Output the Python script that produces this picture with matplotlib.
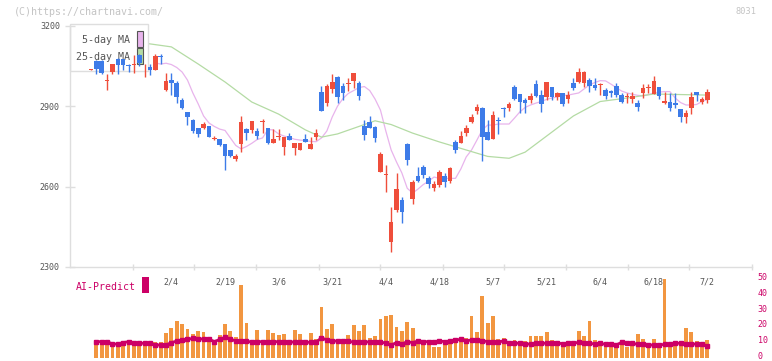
"""
Candlestick chart with 5/25-day moving averages and an AI-Predict volume panel.
"""

import matplotlib

matplotlib.use("Agg")
import matplotlib.pyplot as plt
import matplotlib.transforms as mtransforms
import numpy as np
from matplotlib.patches import Rectangle

# --- data ----------------------------------------------------------------
opens = [
    3036, 3069, 3069, 2996, 3028, 3077, 3077, 3054, 3055, 3092,
    3038, 3048, 3036, 3087, 2961, 2998, 2988, 2924, 2880, 2849,
    2818, 2818, 2827, 2777, 2777, 2759, 2737, 2705, 2759, 2815,
    2812, 2808, 2843, 2818, 2762, 2785, 2747, 2789, 2743, 2737,
    2778, 2742, 2787, 2955, 2914, 2965, 3008, 2976, 2983, 2996,
    2986, 2826, 2843, 2821, 2656, 2645, 2395, 2513, 2550, 2759,
    2553, 2640, 2675, 2634, 2596, 2606, 2641, 2622, 2768, 2764,
    2799, 2840, 2883, 2892, 2803, 2778, 2848, 2895, 2892, 2973,
    2946, 2924, 2924, 2982, 2942, 2936, 2973, 2936, 2951, 2927,
    2986, 2992, 2986, 2998, 2980, 2980, 2961, 2957, 2976, 2942,
    2933, 2926, 2914, 2951, 2967, 2946, 2971, 2914, 2917, 2914,
    2889, 2861, 2895, 2952, 2917, 2924,
]
highs = [
    3040, 3073, 3073, 3020, 3058, 3080, 3077, 3058, 3092, 3095,
    3058, 3058, 3095, 3095, 3025, 3025, 2995, 2930, 2880, 2852,
    2818, 2842, 2827, 2791, 2779, 2759, 2737, 2721, 2863, 2820,
    2845, 2819, 2852, 2818, 2815, 2815, 2784, 2800, 2763, 2763,
    2795, 2785, 2817, 2975, 2982, 3021, 3013, 2986, 3004, 3025,
    2996, 2849, 2864, 2826, 2731, 2681, 2525, 2650, 2563, 2764,
    2625, 2675, 2680, 2640, 2621, 2662, 2650, 2675, 2774, 2809,
    2830, 2871, 2909, 2899, 2849, 2883, 2861, 2899, 2917, 2980,
    2946, 2930, 2948, 2998, 2961, 2992, 2973, 2955, 2951, 2957,
    3004, 3042, 3033, 3004, 3004, 2988, 2967, 2961, 2988, 2948,
    2948, 2955, 2924, 2983, 2983, 3013, 2971, 2955, 2948, 2948,
    2889, 2886, 2952, 2952, 2936, 2963,
]
lows = [
    3035, 3020, 3020, 2961, 3020, 3020, 3036, 3028, 3025, 3050,
    3008, 3017, 3036, 3058, 2958, 2942, 2914, 2890, 2830, 2800,
    2787, 2815, 2784, 2775, 2752, 2662, 2712, 2697, 2729, 2775,
    2800, 2778, 2800, 2758, 2762, 2775, 2718, 2775, 2720, 2737,
    2765, 2742, 2776, 2884, 2900, 2948, 2914, 2924, 2958, 2967,
    2924, 2774, 2818, 2765, 2656, 2581, 2357, 2507, 2463, 2681,
    2535, 2619, 2631, 2596, 2585, 2600, 2600, 2615, 2724, 2762,
    2789, 2836, 2871, 2697, 2774, 2778, 2797, 2859, 2884, 2924,
    2876, 2876, 2911, 2936, 2880, 2924, 2924, 2924, 2901, 2911,
    2961, 2988, 2973, 2952, 2961, 2942, 2927, 2936, 2936, 2911,
    2911, 2911, 2884, 2930, 2948, 2946, 2926, 2909, 2884, 2892,
    2843, 2839, 2870, 2921, 2909, 2914,
]
closes = [
    3039, 3038, 3024, 2999, 3058, 3054, 3054, 3050, 3058, 3062,
    3041, 3036, 3087, 3083, 2993, 2986, 2934, 2895, 2861, 2809,
    2797, 2834, 2787, 2780, 2756, 2714, 2715, 2715, 2841, 2800,
    2845, 2790, 2846, 2762, 2778, 2788, 2784, 2775, 2763, 2763,
    2765, 2759, 2802, 2884, 2976, 2990, 2936, 2951, 2986, 3023,
    2938, 2793, 2820, 2783, 2722, 2648, 2469, 2591, 2507, 2700,
    2616, 2622, 2644, 2609, 2610, 2653, 2619, 2671, 2737, 2789,
    2820, 2859, 2899, 2787, 2774, 2868, 2844, 2889, 2909, 2927,
    2915, 2914, 2938, 2938, 2907, 2992, 2933, 2951, 2909, 2942,
    2970, 3029, 3029, 2977, 2970, 2983, 2940, 2951, 2942, 2917,
    2938, 2938, 2899, 2967, 2973, 2994, 2940, 2920, 2895, 2905,
    2861, 2874, 2936, 2942, 2926, 2955,
]

# 5-day MA, starting at candle 12
ma5_start = 12
ma5 = [
    3062, 3058, 3061, 3056, 3045, 3028, 2998, 2950, 2909, 2864,
    2838, 2825, 2815, 2810, 2782, 2754, 2741, 2750, 2762, 2776,
    2782, 2813, 2812, 2797, 2789, 2784, 2777, 2774, 2772, 2769,
    2768, 2782, 2808, 2860, 2901, 2929, 2948, 2959, 2970, 2974,
    2959, 2927, 2886, 2808, 2737, 2692, 2651, 2594, 2576, 2591,
    2608, 2621, 2636, 2631, 2631, 2631, 2631, 2666, 2711, 2737,
    2774, 2812, 2830, 2830, 2834, 2834, 2834, 2856, 2879, 2896,
    2905, 2912, 2918, 2926, 2931, 2935, 2940, 2942, 2946, 2950,
    2965, 2980, 2989, 2996, 2995, 2983, 2970, 2957, 2950, 2945,
    2941, 2939, 2944, 2950, 2953, 2955, 2955, 2931, 2914, 2905,
    2905, 2907, 2918, 2926,
]

# 25-day MA, read at these candle positions
ma25_idx = [10, 15, 20, 25, 30, 35, 40, 43, 46, 50, 53, 56, 60, 65, 70,
            74, 78, 81, 85, 90, 95, 100, 105, 110, 115]
ma25 = [3136, 3122, 3058, 2991, 2916, 2871, 2812, 2785, 2797, 2825, 2846,
        2832, 2800, 2767, 2737, 2713, 2706, 2729, 2789, 2864, 2918, 2931,
        2946, 2944, 2942]

# volume and AI-Predict line (start at candle 1)
volume = [
    11.1, 10.1, 10.1, 9.1, 9.1, 9.1, 10.1, 9.5, 9.5, 9.5,
    9.5, 10.1, 10.1, 15.8, 18.9, 23.1, 21.2, 18.1, 14.9, 16.8,
    16.4, 12.8, 10.1, 14.3, 21.2, 16.8, 12.8, 45.8, 22.0, 11.1,
    17.4, 10.1, 17.4, 15.8, 14.3, 14.9, 10.1, 17.4, 14.9, 11.1,
    15.8, 11.8, 32.1, 18.1, 21.2, 11.6, 11.1, 14.3, 20.6, 16.8,
    20.6, 12.2, 13.7, 24.4, 26.3, 26.9, 19.5, 16.8, 22.7, 18.9,
    8.6, 9.1, 8.0, 6.9, 6.5, 9.7, 10.3, 12.2, 10.1, 12.6,
    26.3, 16.4, 38.8, 21.7, 26.3, 11.6, 12.6, 10.5, 11.1, 10.5,
    10.5, 13.7, 13.7, 13.7, 16.4, 11.1, 10.5, 9.1, 9.5, 9.5,
    17.0, 13.7, 23.1, 11.1, 9.5, 9.1, 8.0, 7.3, 11.1, 6.9,
    9.5, 14.9, 11.8, 8.0, 11.8, 8.0, 49.5, 6.9, 10.1, 10.5,
    18.9, 16.4, 10.5, 6.9, 11.1,
]
ai_predict = [
    10.1, 10.1, 10.1, 8.6, 8.6, 9.5, 10.1, 9.1, 9.1, 9.1,
    9.1, 8.0, 8.0, 8.0, 9.5, 10.5, 11.1, 11.5, 12.2, 11.8,
    11.8, 11.8, 10.1, 11.5, 12.8, 11.8, 10.5, 10.5, 10.5, 9.7,
    10.1, 10.1, 10.1, 10.1, 10.1, 10.1, 10.1, 9.7, 9.7, 9.7,
    9.7, 9.7, 12.6, 11.1, 10.5, 10.5, 10.5, 10.5, 9.7, 9.7,
    9.7, 10.1, 10.1, 10.0, 9.1, 8.0, 9.5, 8.6, 10.1, 9.5,
    10.5, 10.1, 10.1, 10.1, 10.5, 10.1, 10.5, 11.1, 11.6, 10.7,
    11.1, 11.1, 10.7, 10.1, 9.7, 9.7, 10.7, 9.1, 9.1, 9.1,
    8.6, 8.6, 9.1, 9.1, 9.1, 9.1, 9.5, 8.6, 9.1, 9.1,
    9.7, 9.1, 9.1, 8.6, 9.1, 8.4, 8.6, 8.0, 9.7, 9.1,
    9.1, 8.4, 8.4, 8.0, 8.0, 8.0, 8.4, 8.4, 9.1, 9.1,
    8.4, 8.6, 8.6, 8.4, 7.3,
]

date_labels = ["2/4", "2/19", "3/6", "3/21", "4/4", "4/18", "5/7", "5/21", "6/4", "6/18", "7/2"]
date_label_idx = [15, 25, 35, 45, 55, 65, 75, 85, 95, 105, 115]
tick_idx = [7.8, 19.2, 30.8, 42.5, 53.9, 65.7, 77.1, 88.6, 100.2, 111.6, 123.3]
price_ticks = [2300, 2600, 2900, 3200]
volume_ticks = [0, 10, 20, 30, 40, 50]

# --- style ------------------------------------------------------------------
RED = "#ef4e3b"
BLUE = "#3d7be8"
ORANGE = "#f29640"
MAGENTA = "#cc0066"
PINK = "#e8b4ec"
GREEN = "#b4dba4"
AXIS = "#dedede"
TEXT = "#555555"
MONO = "DejaVu Sans Mono"

W, H = 772, 361


def fx(px):
    return px / W


def fy(py):
    return 1 - py / H


fig = plt.figure(figsize=(W / 100, H / 100), dpi=100)
fig.patch.set_facecolor("white")

# --- price panel ------------------------------------------------------------
ax = fig.add_axes([fx(70), fy(267), fx(752) - fx(70), fy(26) - fy(267)])
ax.set_xlim(-3.92, 123.32)
ax.set_ylim(2300, 3200)
for side in ("top", "right"):
    ax.spines[side].set_visible(False)
for side in ("left", "bottom"):
    ax.spines[side].set_color(AXIS)
    ax.spines[side].set_linewidth(1.0)

ax.set_yticks(price_ticks)
ax.set_yticklabels([str(p) for p in price_ticks], fontsize=6, family=MONO, color=TEXT)
ax.tick_params(axis="y", direction="inout", length=6.5, width=1.0, color=AXIS, pad=4)
ax.set_xticks(tick_idx)
ax.set_xticklabels([])
ax.tick_params(axis="x", direction="inout", length=4, width=1.0, color=AXIS)

x = np.arange(len(opens))
o = np.array(opens)
c = np.array(closes)
colors = [RED if cc >= oo else BLUE for oo, cc in zip(o, c)]

ax.plot(np.arange(ma5_start, ma5_start + len(ma5)), ma5, color=PINK, lw=0.9, zorder=1)
ax.plot(ma25_idx, ma25, color=GREEN, lw=0.9, zorder=1)

# legend box sits above the MA lines but below the candles
ax.add_patch(Rectangle((fx(70), fy(71)), fx(148) - fx(70), fy(24) - fy(71),
                       transform=fig.transFigure, facecolor="white", edgecolor=AXIS,
                       lw=1.0, clip_on=False, zorder=1.5))
for label, color, ty, sy0, sy1 in [("5-day MA", PINK, 40, 31, 47), ("25-day MA", GREEN, 57, 48, 64)]:
    ax.text(fx(130), fy(ty), label, transform=fig.transFigure, ha="right", va="center",
            fontsize=7.2, family=MONO, color=TEXT, zorder=1.6)
    ax.add_patch(Rectangle((fx(136.5), fy(sy1)), fx(142.5) - fx(136.5), fy(sy0) - fy(sy1),
                           transform=fig.transFigure, facecolor=color, edgecolor=TEXT,
                           lw=0.8, clip_on=False, zorder=1.6))

ax.vlines(x, lows, highs, colors=colors, lw=1.0, zorder=2)
body_h = np.maximum(np.abs(c - o), 3)
ax.bar(x, body_h, bottom=np.minimum(o, c), width=0.86, color=colors, lw=0, zorder=3)

# date labels under the axis
blend = mtransforms.blended_transform_factory(ax.transData, fig.transFigure)
for idx, lab in zip(date_label_idx, date_labels):
    ax.text(idx, fy(282), lab, transform=blend, ha="center", va="center",
            fontsize=6, family=MONO, color=TEXT, clip_on=False)

# --- volume / AI-Predict panel ------------------------------------------------
vax = fig.add_axes([fx(70), fy(357.7), fx(752) - fx(70), fy(278.3) - fy(357.7)])
vax.set_xlim(-3.92, 123.32)
vax.set_ylim(0, 50)
for s in vax.spines.values():
    s.set_visible(False)
vax.set_xticks([])
vax.yaxis.tick_right()
vax.set_yticks(volume_ticks)
vax.set_yticklabels([str(v) for v in volume_ticks], fontsize=6, family=MONO, color=MAGENTA)
vax.tick_params(axis="y", length=0, pad=4)
vax.set_facecolor("none")
# nudge the right-hand labels up a touch so "0" stays inside the canvas
lift = mtransforms.ScaledTranslation(0, 2 / 100, fig.dpi_scale_trans)
for lab in vax.get_yticklabels():
    lab.set_transform(lab.get_transform() + lift)

vx = np.arange(1, 1 + len(volume))
vax.bar(vx, volume, width=0.72, color=ORANGE, lw=0, zorder=1)
vax.plot(vx, ai_predict, color=MAGENTA, lw=2.0, marker="s", ms=2.2, zorder=2)

fig.text(fx(76), fy(286.5), "AI-Predict", ha="left", va="center",
         fontsize=7.1, family=MONO, color=MAGENTA)
fig.patches.append(Rectangle((fx(141.7), fy(292.7)), fx(149) - fx(141.7), fy(276.7) - fy(292.7),
                             transform=fig.transFigure, facecolor=MAGENTA, lw=0))

# --- header texts -------------------------------------------------------------
fig.text(fx(14), fy(12), "(C)https://chartnavi.com/", ha="left", va="center",
         fontsize=7.2, family=MONO, color="#c4c4c4")
fig.text(fx(756), fy(12), "8031", ha="right", va="center",
         fontsize=6.2, family=MONO, color="#c4c4c4")

fig.savefig("out.png", dpi=100, facecolor="white")
plt.close(fig)
